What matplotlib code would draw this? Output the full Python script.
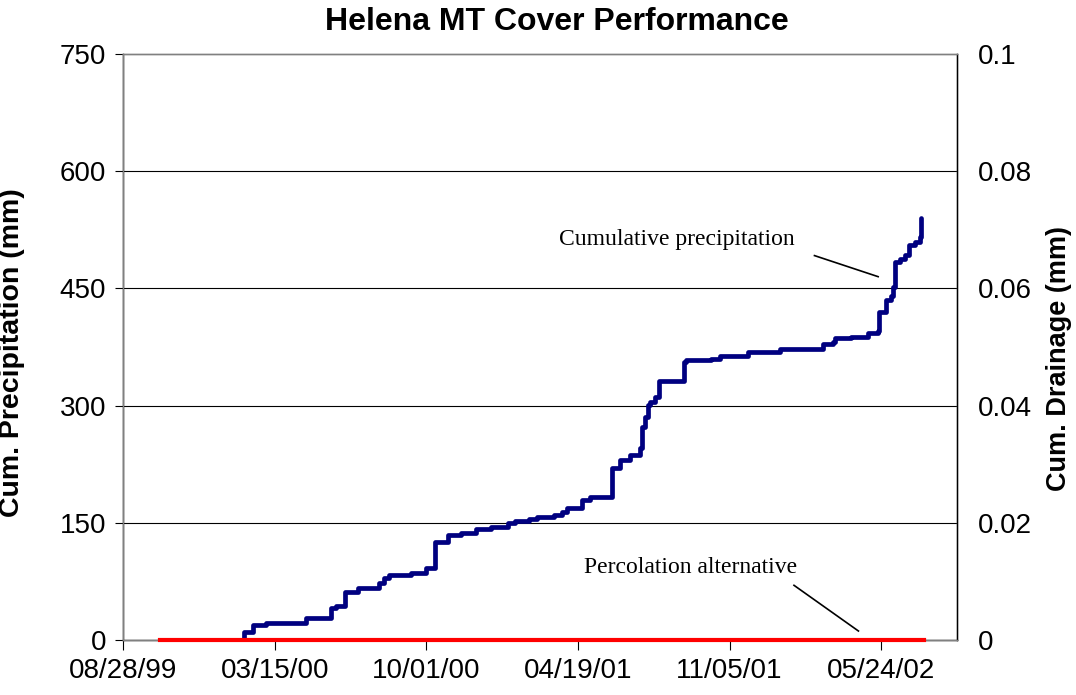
import matplotlib
matplotlib.use('Agg')
import matplotlib.pyplot as plt
import matplotlib.dates as mdates
import pandas as pd

# --- Data ---
precip_dates = [
    '1999-10-16', '2000-02-03', '2000-02-15', '2000-03-03', '2000-04-25', '2000-05-28',
    '2000-06-04', '2000-06-16', '2000-07-03', '2000-07-31', '2000-08-06', '2000-08-13',
    '2000-09-11', '2000-10-01', '2000-10-12', '2000-10-30', '2000-11-16', '2000-12-06',
    '2000-12-26', '2001-01-17', '2001-01-26', '2001-02-13', '2001-02-24', '2001-03-18',
    '2001-03-29', '2001-04-04', '2001-04-24', '2001-05-05', '2001-06-03', '2001-06-14',
    '2001-06-27', '2001-07-10', '2001-07-13', '2001-07-17', '2001-07-21', '2001-07-23',
    '2001-07-30', '2001-08-04', '2001-09-06', '2001-09-08', '2001-10-11', '2001-10-24',
    '2001-11-29', '2001-12-29', '2002-01-10', '2002-03-08', '2002-03-21', '2002-03-24',
    '2002-04-14', '2002-05-07', '2002-05-20', '2002-05-21', '2002-05-31', '2002-06-06',
    '2002-06-08', '2002-06-11', '2002-06-18', '2002-06-25', '2002-06-30', '2002-07-08',
    '2002-07-14', '2002-07-16',
]
precip_mm = [
    0, 10, 19, 22, 28, 41,
    44, 61, 66, 73, 79, 83,
    86, 92, 126, 134, 137, 142,
    145, 150, 152, 155, 157, 160,
    164, 169, 179, 183, 220, 230,
    237, 246, 273, 286, 301, 305,
    311, 331, 356, 358, 360, 363,
    368, 369, 373, 379, 382, 387,
    388, 393, 395, 420, 435, 440,
    452, 484, 488, 493, 506, 510,
    516, 540,
]

drain_dates = ['1999-10-16', '2002-07-20']
drain_mm = [0, 0]

x_ticks = pd.date_range('1999-08-28', periods=6, freq='200D')
y_left_ticks = [0, 150, 300, 450, 600, 750]
y_right_ticks = [0, 0.02, 0.04, 0.06, 0.08, 0.1]
y_right_labels = ['0', '0.02', '0.04', '0.06', '0.08', '0.1']

# --- Figure ---
plt.rcParams['font.family'] = ['Liberation Sans', 'DejaVu Sans']
fig = plt.figure(figsize=(10.76, 6.95), dpi=100)
ax = fig.add_axes([123 / 1076, 1 - 640 / 695, 834 / 1076, 586 / 695])
ax2 = ax.twinx()

p_dates = pd.to_datetime(precip_dates)
d_dates = pd.to_datetime(drain_dates)

ax.plot(p_dates, precip_mm, color='#000080', linewidth=3.4, drawstyle='steps-post',
        solid_joinstyle='round', solid_capstyle='round', zorder=3)
ax2.plot(d_dates, drain_mm, color='#FF0000', linewidth=3.0, clip_on=False, zorder=3)

# axes limits / ticks
ax.set_xlim(pd.Timestamp('1999-08-28'), pd.Timestamp('2002-09-01'))
ax.set_ylim(0, 750)
ax2.set_ylim(0, 0.1)
ax.set_xticks(x_ticks)
ax.xaxis.set_major_formatter(mdates.DateFormatter('%m/%d/%y'))
ax.set_yticks(y_left_ticks)
ax2.set_yticks(y_right_ticks)
ax2.set_yticklabels(y_right_labels)

for y in y_left_ticks[1:-1]:
    ax.axhline(y, color='black', linewidth=0.8, zorder=1)

for a in (ax, ax2):
    for s in a.spines.values():
        s.set_color('#808080')
        s.set_linewidth(1.0)
ax.spines['bottom'].set_color('black')
ax.spines['left'].set_color('black')
ax2.spines['right'].set_color('black')

ax.tick_params(axis='x', direction='out', length=7, width=0.8, labelsize=20, pad=6)
ax.tick_params(axis='y', direction='out', length=6, width=0.8, labelsize=20, pad=6)
ax2.tick_params(axis='y', direction='out', length=0, labelsize=20, pad=15)

ax.set_ylabel('Cum. Precipitation (mm)', fontsize=20.5, fontweight='bold')
ax.yaxis.set_label_coords(-0.117, 0.49)
ax2.set_ylabel('Cum. Drainage (mm)', fontsize=19.5, fontweight='bold', rotation=90)
ax2.yaxis.set_label_coords(1.107, 0.48)

fig.text(557 / 1076, 1 - 22 / 695, 'Helena MT Cover Performance', fontsize=23,
         fontweight='bold', ha='center', va='center')

# annotations
serif = ['Liberation Serif', 'DejaVu Serif']
ax.text(pd.Timestamp('2001-08-28'), 512, 'Cumulative precipitation', family=serif,
        fontsize=17, ha='center', va='center')
ax.plot([pd.Timestamp('2002-02-25'), pd.Timestamp('2002-05-20')], [492, 465],
        color='black', linewidth=1.2)
ax.text(pd.Timestamp('2001-09-14'), 93, 'Percolation alternative', family=serif,
        fontsize=17, ha='center', va='center')
ax.plot([pd.Timestamp('2002-01-29'), pd.Timestamp('2002-04-24')], [70, 11.5],
        color='black', linewidth=1.2)

fig.savefig('out.png', dpi=100)
